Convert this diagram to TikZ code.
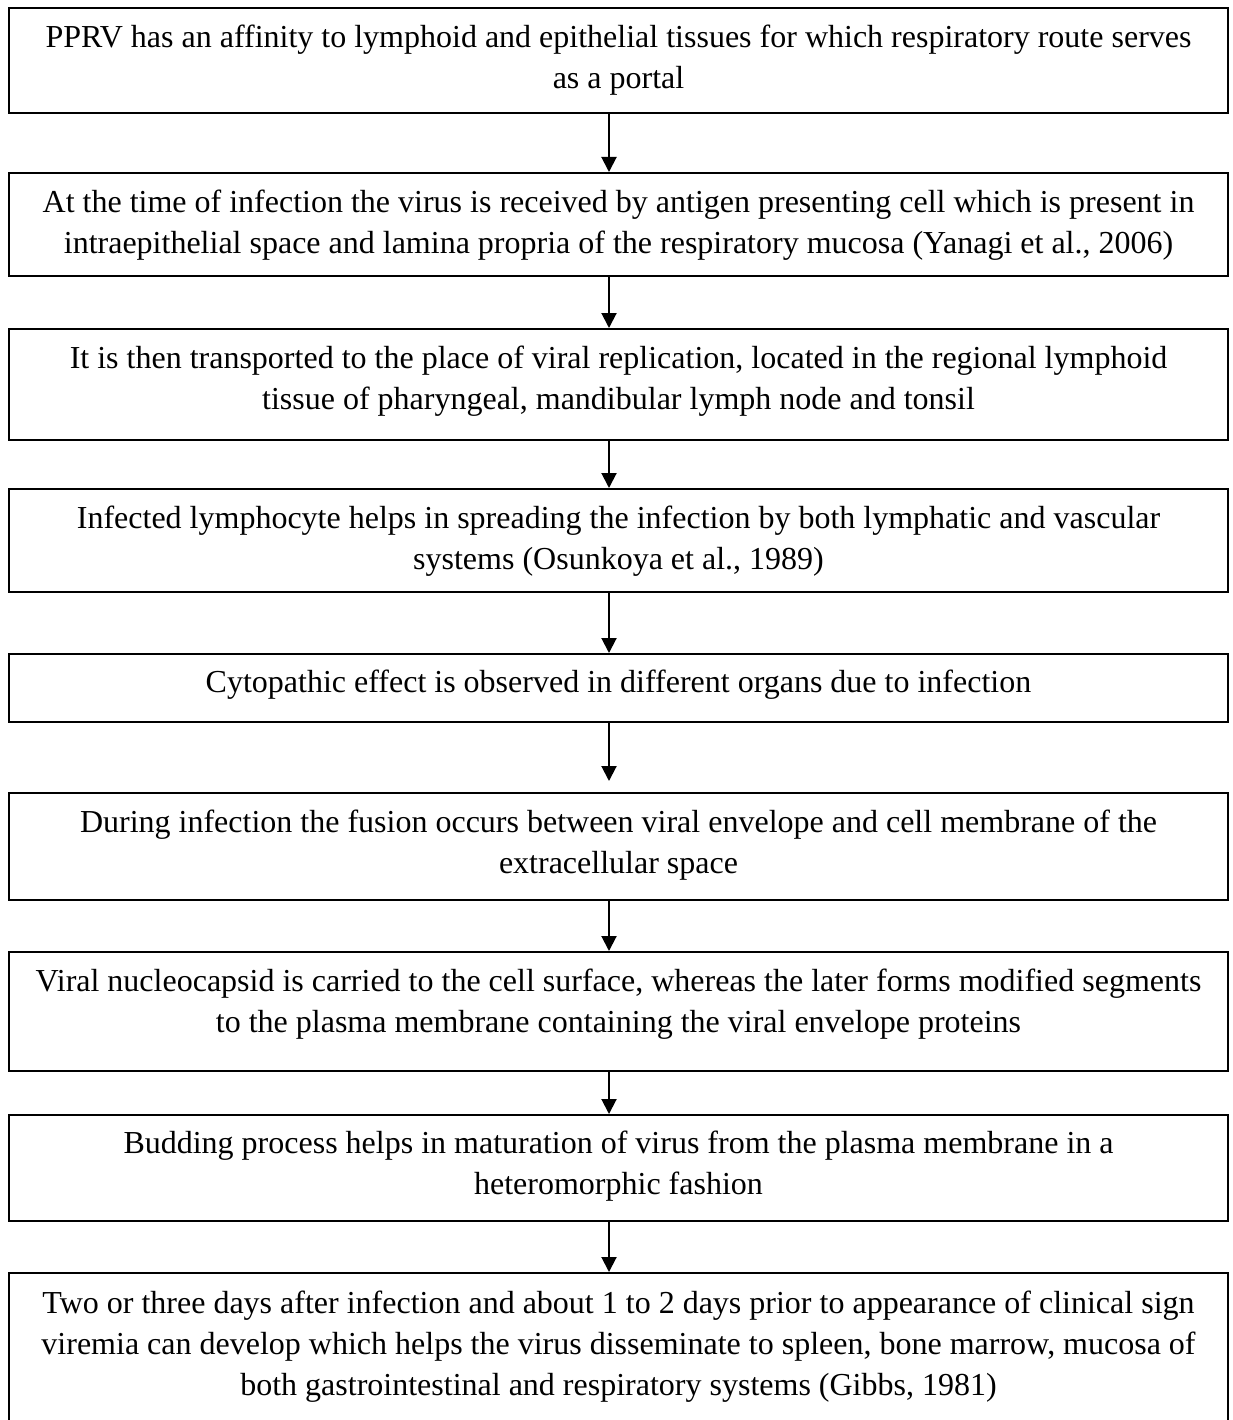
\documentclass[tikz,border=0pt]{standalone}
\usepackage{fontspec}
\setmainfont{Liberation Serif}
\usetikzlibrary{arrows.meta}
\begin{document}
\begin{tikzpicture}[x=1pt,y=-1pt,
  box/.style={draw=black,line width=2pt,minimum width=1219pt,inner sep=0pt,anchor=north},
  txt/.style={align=center,inner sep=0pt,anchor=north,font=\fontsize{32}{41}\selectfont},
  arr/.style={-{Triangle[width=15pt,length=15pt]},line width=2pt}]
\useasboundingbox (0,0) rectangle (1232,1420);
\coordinate (ax) at (609,0);
% boxes
\node[box,minimum height=105pt] (b1) at (618.5,7) {};
\node[box,minimum height=103pt] (b2) at (618.5,172) {};
\node[box,minimum height=111pt] (b3) at (618.5,328) {};
\node[box,minimum height=103pt] (b4) at (618.5,488) {};
\node[box,minimum height=68pt] (b5) at (618.5,653) {};
\node[box,minimum height=107pt] (b6) at (618.5,792) {};
\node[box,minimum height=119pt] (b7) at (618.5,951) {};
\node[box,minimum height=106pt] (b8) at (618.5,1114) {};
\node[box,minimum height=160pt] (b9) at (618.5,1272) {};
% texts
\node[txt] (t1) at (618.5,18.3) {\strut PPRV has an affinity to lymphoid and epithelial tissues for which respiratory route serves\\as a portal};
\node[txt] (t2) at (618.5,183.3) {\strut At the time of infection the virus is received by antigen presenting cell which is present in\\intraepithelial space and lamina propria of the respiratory mucosa (Yanagi et al., 2006)};
\node[txt] (t3) at (618.5,339.3) {\strut It is then transported to the place of viral replication, located in the regional lymphoid\\tissue of pharyngeal, mandibular lymph node and tonsil};
\node[txt] (t4) at (618.5,499.3) {\strut Infected lymphocyte helps in spreading the infection by both lymphatic and vascular\\systems (Osunkoya et al., 1989)};
\node[txt] (t5) at (618.5,663.3) {\strut Cytopathic effect is observed in different organs due to infection};
\node[txt] (t6) at (618.5,803.3) {\strut During infection the fusion occurs between viral envelope and cell membrane of the\\extracellular space};
\node[txt] (t7) at (618.5,962.3) {\strut Viral nucleocapsid is carried to the cell surface, whereas the later forms modified segments\\to the plasma membrane containing the viral envelope proteins};
\node[txt] (t8) at (618.5,1124.3) {\strut Budding process helps in maturation of virus from the plasma membrane in a\\heteromorphic fashion};
\node[txt] (t9) at (618.5,1284.3) {\strut Two or three days after infection and about 1 to 2 days prior to appearance of clinical sign\\viremia can develop which helps the virus disseminate to spleen, bone marrow, mucosa of\\both gastrointestinal and respiratory systems (Gibbs, 1981)};
% arrows
\draw[arr] (b1.south -| ax) -- (b2.north -| ax);
\draw[arr] (b2.south -| ax) -- (b3.north -| ax);
\draw[arr] (b3.south -| ax) -- (b4.north -| ax);
\draw[arr] (b4.south -| ax) -- (b5.north -| ax);
\draw[arr,shorten >=11pt] (b5.south -| ax) -- (b6.north -| ax);
\draw[arr] (b6.south -| ax) -- (b7.north -| ax);
\draw[arr] (b7.south -| ax) -- (b8.north -| ax);
\draw[arr] (b8.south -| ax) -- (b9.north -| ax);
\end{tikzpicture}
\end{document}
